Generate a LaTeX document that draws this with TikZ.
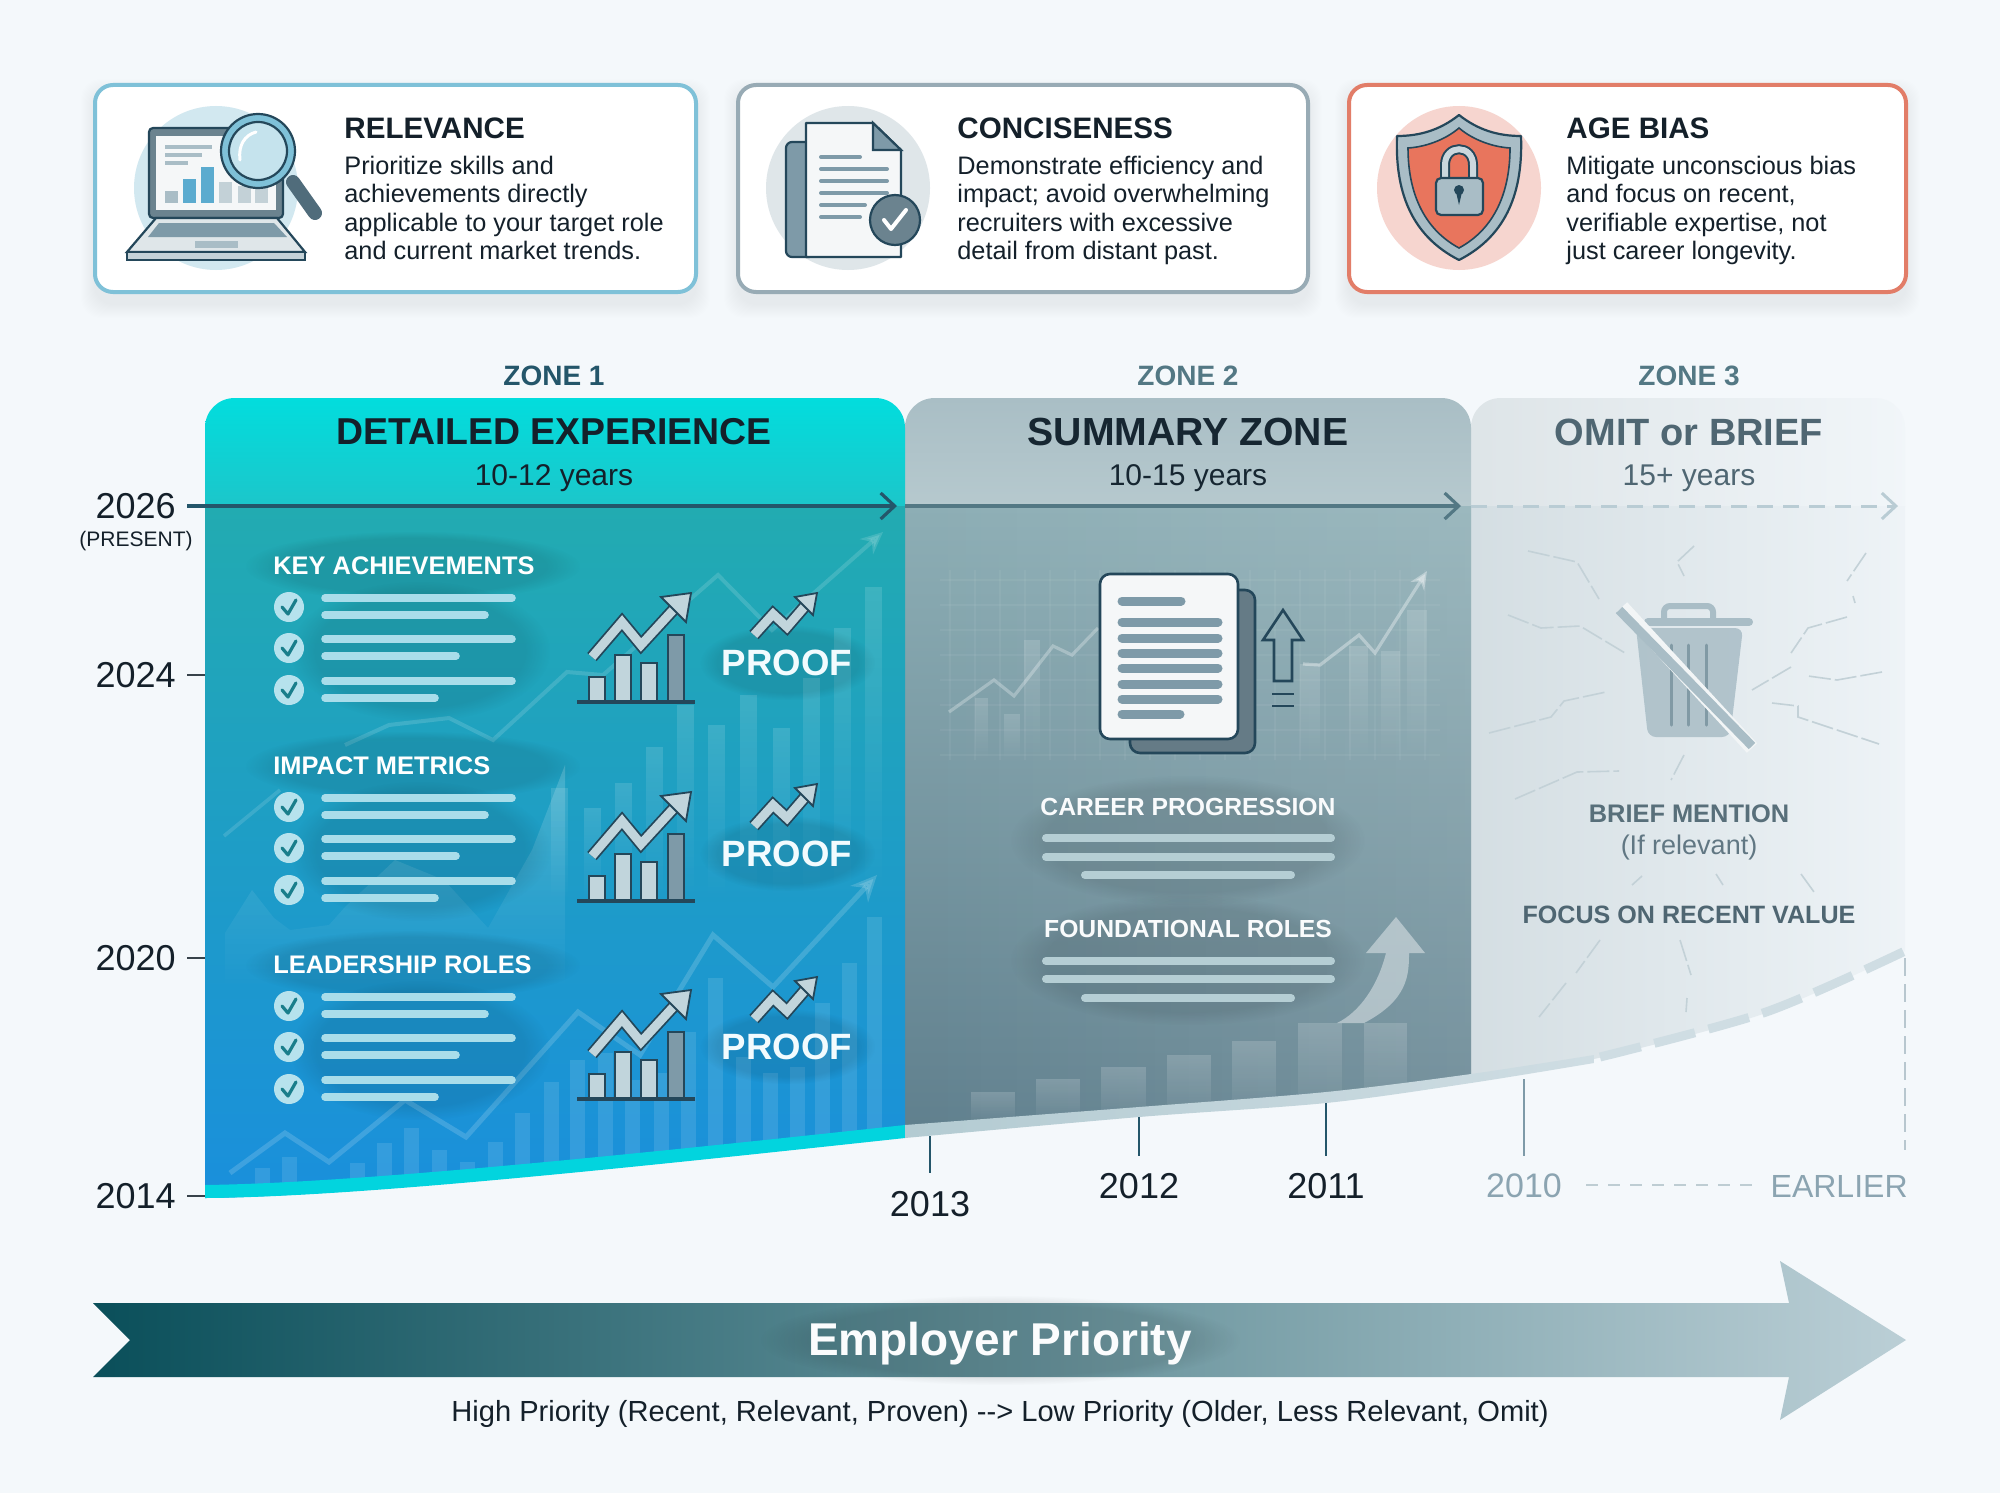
\documentclass[tikz,border=0pt]{standalone}
\usepackage{fontspec}
\setmainfont{Liberation Sans}
\usetikzlibrary{arrows.meta,fadings}

\definecolor{pagebg}{HTML}{F4F8FB}
\definecolor{inkdark}{HTML}{14202A}
\definecolor{iconink}{HTML}{24475A}
\definecolor{iconmid}{HTML}{7E9AA8}
\definecolor{iconpale}{HTML}{C1D5DC}
\definecolor{relblue}{HTML}{7FC1D8}
\definecolor{relhalo}{HTML}{D2E8F0}
\definecolor{congray}{HTML}{98ABB5}
\definecolor{agered}{HTML}{E27D68}
\definecolor{shieldred}{HTML}{E8755D}
\definecolor{lineone}{HTML}{24566A}
\definecolor{linetwo}{HTML}{537884}
\definecolor{linethree}{HTML}{B9CCD4}
\definecolor{listline}{HTML}{A9DDEA}
\definecolor{sumline}{HTML}{B5CED4}
\definecolor{trashgray}{HTML}{A9BDC6}
\definecolor{crackgray}{HTML}{C3D1D7}
\definecolor{omitink}{HTML}{4F6672}
\definecolor{zoneonea}{HTML}{02DDDD}
\definecolor{zoneoneb}{HTML}{1CC6CA}
\definecolor{zoneonec}{HTML}{22ABB1}
\definecolor{zoneoned}{HTML}{19A2C8}
\definecolor{zoneonee}{HTML}{1A8FDC}
\definecolor{zonetwoa}{HTML}{A9BEC5}
\definecolor{zonetwob}{HTML}{B6C9CE}
\definecolor{zonetwoc}{HTML}{8DAEB5}
\definecolor{zonetwod}{HTML}{7595A1}
\definecolor{zonetwoe}{HTML}{5F7F8D}
\definecolor{bandtwo}{HTML}{B3CBD2}
\definecolor{bandthree}{HTML}{CFDDE3}
\definecolor{arrowa}{HTML}{0A4F5A}
\definecolor{arrowb}{HTML}{5A8B96}
\definecolor{arrowc}{HTML}{BBCFD6}

\tikzfading[name=fadedn, top color=transparent!0, bottom color=transparent!100]
\tikzfading[name=fadert, left color=transparent!100, right color=transparent!0]

\tikzset{
  cardbox/.style={line width=2pt,fill=white,rounded corners=9pt},
  cardtitle/.style={anchor=west,inner sep=0pt,text=inkdark,font=\fontsize{14.8}{18}\selectfont\bfseries},
  cardbody/.style={anchor=north west,inner sep=0pt,align=left,text=inkdark,font=\fontsize{12.65}{14.1}\selectfont},
  iconline/.style={line width=1.1pt,draw=iconink},
  zonetag/.style={inner sep=0pt,font=\fontsize{14}{16}\selectfont\bfseries},
  zonehead/.style={inner sep=0pt,font=\fontsize{19}{22}\selectfont\bfseries},
  zoneyears/.style={inner sep=0pt,font=\fontsize{15}{18}\selectfont},
  yearlabel/.style={inner sep=0pt,text=inkdark,font=\fontsize{18}{20}\selectfont},
  minilabel/.style={inner sep=0pt,font=\fontsize{12.7}{15}\selectfont\bfseries},
  sumlabel/.style={inner sep=0pt,text=white!92!sumline,font=\fontsize{12.35}{15}\selectfont\bfseries},
  listbar/.style={line width=3.8pt,line cap=round,draw=listline},
  sumbar/.style={line width=4pt,line cap=round,draw=sumline},
  softglow/.style={black,opacity=.09,path fading=circle with fuzzy edge 20 percent},
  zigline/.style={line width=.9pt,draw=iconink,double=#1,double distance=4.4pt,line join=miter},
  zighead/.style={line width=.9pt,draw=iconink,fill=#1,line join=miter},
  crack/.style={line width=.8pt,draw=crackgray,dash pattern=on 11pt off 2pt},
  yeartick/.style={line width=1pt,draw=#1},
}

% soft drop shadow of a card
\newcommand{\cardshadow}[4]{
  \foreach \k in {1,...,14}
    \fill[black,opacity=.0035,rounded corners=10pt] ({#1-\k},{#2+8-\k}) rectangle ({#3+\k},{#4+12+\k});
}

\begin{document}
\begin{tikzpicture}[x=.5pt,y=-.5pt]
\fill[pagebg] (0,0) rectangle (2000,1493);
\useasboundingbox (0,0) rectangle (2000,1493);

% cards
\cardshadow{95}{85}{696}{292}
\cardshadow{738}{85}{1308}{292}
\cardshadow{1349}{85}{1906}{292}
\draw[cardbox,draw=relblue] (95,85) rectangle (696,292);
\draw[cardbox,draw=congray] (738,85) rectangle (1308,292);
\draw[cardbox,draw=agered] (1349,85) rectangle (1906,292);

% relevance icon
\fill[relhalo] (216,188) circle (82);
\draw[iconline,fill=iconmid!85!black,rounded corners=2pt] (149,128) rectangle (283,218);
\fill[white!92!iconmid] (156,136) rectangle (276,210);
\foreach \xa/\ya/\c in {165/191/trashgray,183/179/cyan!50!iconmid,201/167/cyan!50!iconmid,219/182/trashgray!70,238/186/trashgray!70,255/188/trashgray!70}
  \fill[\c] (\xa,\ya) rectangle (\xa+13,203);
\foreach \ya/\xb in {147/212,155/202,163/188}
  \draw[trashgray,line width=1.6pt] (165,\ya) -- (\xb,\ya);
\draw[iconline,fill=iconmid!25] (156,218) -- (277,218) -- (305,252) -- (127,252) -- cycle;
\draw[iconline,fill=iconmid!45] (127,252) rectangle (305,260);
\fill[iconmid] (159,223) -- (274,223) -- (287,237) -- (148,237) -- cycle;
\fill[trashgray] (195,241) rectangle (238,248);
\draw[line width=7pt,line cap=round,draw=iconink!80] (293,182) -- (315,213);
\draw[iconline,fill=relblue] (258,151) circle (37);
\draw[iconline,fill=relblue!45] (258,151) circle (29);
\draw[white,line width=1.5pt,line cap=round] (240,160) .. controls (238,145) and (245,135) .. (256,132);

% conciseness icon
\fill[iconmid!25] (848,188) circle (82);
\draw[iconline,fill=iconmid,rounded corners=3pt] (786,142) rectangle (815,257);
\draw[iconline,fill=white!92!iconmid,line join=round] (806,123) -- (873,123) -- (901,150) -- (901,257) -- (806,257) -- cycle;
\draw[iconline,fill=iconmid] (873,123) -- (901,150) -- (873,150) -- cycle;
\foreach \ya/\xb in {157/860,169/887,181/887,193/887,205/865,217/860}
  \draw[iconmid,line width=2pt,line cap=round] (821,\ya) -- (\xb,\ya);
\draw[iconline,fill=iconmid!85!black] (895,220) circle (25);
\draw[white,line width=2pt,line cap=round,line join=round] (884,220) -- (891,229) -- (906,210);

% age bias icon
\fill[agered!32] (1459,188) circle (82);
\draw[iconline,fill=trashgray,line join=round] (1459,115) .. controls (1440,130) and (1420,136) .. (1397,136) .. controls (1395,190) and (1410,235) .. (1459,260) .. controls (1508,235) and (1523,190) .. (1521,136) .. controls (1498,136) and (1478,130) .. (1459,115) -- cycle;
\draw[iconink,line width=.8pt,fill=shieldred] (1459,128) .. controls (1445,140) and (1425,147) .. (1408,148) .. controls (1408,190) and (1422,228) .. (1459,248) .. controls (1496,228) and (1510,190) .. (1510,148) .. controls (1493,147) and (1473,140) .. (1459,128) -- cycle;
\draw[iconink,line width=5pt] (1445,180) -- (1445,165) .. controls (1445,144) and (1473,144) .. (1473,165) -- (1473,180);
\draw[trashgray!60,line width=3pt] (1445,180) -- (1445,165) .. controls (1445,144) and (1473,144) .. (1473,165) -- (1473,180);
\draw[iconline,fill=trashgray,rounded corners=2.5pt] (1436,178) rectangle (1483,215);
\fill[iconink] (1459,190) circle (5);
\fill[iconink] (1456,192) -- (1462,192) -- (1459,205) -- cycle;

% card texts
\node[cardtitle] (reltitle) at (344,128) {RELEVANCE};
\node[cardbody] (relbody) at (344,156) {Prioritize skills and\\achievements directly\\applicable to your target role\\and current market trends.};
\node[cardtitle] (contitle) at (957,128) {CONCISENESS};
\node[cardbody] (conbody) at (957,156) {Demonstrate efficiency and\\impact; avoid overwhelming\\recruiters with excessive\\detail from distant past.};
\node[cardtitle] (agetitle) at (1566,128) {AGE BIAS};
\node[cardbody] (agebody) at (1566,156) {Mitigate unconscious bias\\and focus on recent,\\verifiable expertise, not\\just career longevity.};

% zone 3
\begin{scope}
\clip (1471,1079) -- (1471,428) .. controls (1471,411) and (1484,398) .. (1501,398) -- (1875,398) .. controls (1892,398) and (1905,411) .. (1905,428) -- (1905,951) -- plot[smooth] coordinates {(1905,951) (1766,1013) (1594,1059) (1471,1079)} -- cycle;
\shade[left color=black!4!trashgray!36,right color=pagebg!96!trashgray] (1471,398) rectangle (1905,506);
\shade[left color=trashgray!50,right color=pagebg!92!trashgray] (1471,506) rectangle (1905,1100);
\end{scope}

% zone 2
\begin{scope}
\clip (905,1131) -- (905,428) .. controls (905,411) and (918,398) .. (935,398) -- (1441,398) .. controls (1458,398) and (1471,411) .. (1471,428) -- (1471,1079) -- plot[smooth] coordinates {(1471,1079) (1326,1097) (1139,1112) (905,1131)} -- cycle;
\shade[top color=zonetwoa,bottom color=zonetwob] (905,398) rectangle (1471,506);
\shade[top color=zonetwoc,middle color=zonetwod,bottom color=zonetwoe] (905,506) rectangle (1471,1140);
\fill[white,opacity=.13,path fading=fadert] (905,506) rectangle (1471,1140);
\foreach \xa in {950,975,...,1425}
  \draw[white,opacity=.05,line width=.6pt] (\xa,570) -- (\xa,760);
\foreach \ya in {580,605,...,760}
  \draw[white,opacity=.05,line width=.6pt] (940,\ya) -- (1440,\ya);
\foreach \xa/\wa/\ya in {975/13/698,1004/16/714,1024/16/640,1300/20/664,1349/19/646,1381/19/651,1407/20/610}
  \fill[white,opacity=.14,path fading=fadedn] (\xa,\ya) rectangle (\xa+\wa,760);
\draw[white,opacity=.28,line width=1.6pt] (949,712) -- (994,680) -- (1014,696) -- (1053,646) -- (1072,655) -- (1098,628);
\draw[white,opacity=.35,line width=1.6pt,-{Stealth[length=9pt,width=8pt]}] (1303,664) -- (1320,665) -- (1359,635) -- (1375,653) -- (1427,571);
\foreach \xa/\wa/\ya in {971/44/1092,1036/44/1079,1101/45/1067,1167/44/1055,1232/44/1041,1298/44/1023,1364/43/1023}
  \fill[white,opacity=.17,path fading=fadedn] (\xa,\ya) rectangle (\xa+\wa,1125);
\fill[white,opacity=.42] (1337,1023) .. controls (1360,1012) and (1378,985) .. (1386,953) -- (1366,953) -- (1396,917) -- (1425,953) -- (1409,953) .. controls (1409,975) and (1408,1000) .. (1364,1023) -- cycle;
\end{scope}

% zone 1
\begin{scope}
\clip (205,1198) -- (205,428) .. controls (205,411) and (218,398) .. (235,398) -- (875,398) .. controls (892,398) and (905,411) .. (905,428) -- (905,1137) .. controls (600,1170) and (350,1196) .. (205,1198) -- cycle;
\shade[top color=zoneonea,bottom color=zoneoneb] (205,398) rectangle (905,506);
\shade[top color=zoneonec,middle color=zoneoned,bottom color=zoneonee] (205,506) rectangle (905,1200);
% faint bars
\foreach \xa/\ya in {551/788,584/808,615/783,646/747,677/705,708/725,740/695,773/728,803/678,834/628,865/587}
  \fill[white,opacity=.13,path fading=fadedn] (\xa,\ya) rectangle (\xa+17,900);
\foreach \xa/\ya in {255/1168,282/1157,350/1163,377/1143,404/1128,432/1150,460/1162,488/1142,515/1113,544/1082,570/1060,598/1053,625/1080,654/1073,681/1032,708/978,736/1057,763/1073,790/1067,815/1003,842/963,867/917}
  \fill[white,opacity=.11] (\xa,\ya) rectangle (\xa+15,1200);
% faint trends
\fill[white,opacity=.18,path fading=fadedn] (225,933) -- (252,890) -- (274,918) -- (290,930) -- (329,925) -- (345,907) -- (395,860) -- (444,880) -- (488,928) -- (532,850) -- (565,765) -- (565,990) -- (225,990) -- cycle;
\draw[white,opacity=.13,line width=1.8pt] (224,836) -- (280,790);
\draw[white,opacity=.14,line width=2pt,-{Stealth[length=11pt,width=10pt]}] (345,745) -- (389,725) -- (449,718) -- (493,740) -- (567,672) -- (603,675) -- (718,575) -- (772,630) -- (883,532);
\draw[white,opacity=.16,line width=2.5pt,-{Stealth[length=13pt,width=12pt]}] (230,1173) -- (285,1133) -- (329,1162) -- (405,1100) -- (466,1137) -- (578,1012) -- (640,1055) -- (713,935) -- (773,987) -- (877,875);
\end{scope}

% curve bands under the zones
\fill[zoneonea!96!blue] (205,1185) .. controls (350,1183) and (600,1158) .. (905,1125) -- (905,1138) .. controls (600,1171) and (350,1197) .. (205,1198) -- cycle;
\shade[left color=bandtwo,right color=bandthree] (905,1125) -- plot[smooth] coordinates {(905,1125) (1139,1107) (1326,1092) (1471,1074) (1594,1055)} -- (1594,1063) -- plot[smooth] coordinates {(1594,1063) (1471,1083) (1326,1103) (1139,1117) (905,1138)} -- cycle;
\draw[line width=4.5pt,draw=bandthree,dash pattern=on 21pt off 7pt] plot[smooth] coordinates {(1600,1057) (1766,1012) (1905,951)};

% list blocks with their charts
\foreach \blk/\cap/\hy/\chartdy/\proofdy in {key/KEY ACHIEVEMENTS/566/0/0,imp/IMPACT METRICS/766/199/191,lead/LEADERSHIP ROLES/965/397/384}{
  \fill[softglow] (245,\hy-35) rectangle (580,\hy+35);
  \fill[softglow] (290,\hy+15) rectangle (550,\hy+155);
  \fill[softglow] (700,625+\proofdy) rectangle (875,700+\proofdy);
  \node[minilabel,text=white,anchor=west] (head\blk) at (273,\hy) {\cap};
  \foreach \dy in {41,82,124}{
    \fill[listline!85!white] (289,\hy+\dy) circle (15);
    \draw[iconink!70!cyan,line width=1.6pt,line cap=round,line join=round] (282,\hy+\dy) -- (288,\hy+\dy+7) -- (296,\hy+\dy-7);
  }
  \foreach \dy/\xb in {32/515,49/488,73/515,90/459,115/515,132/438}
    \draw[listbar] (325,\hy+\dy) -- (\xb-3,\hy+\dy);
  % chart icon
  \begin{scope}[shift={(0,\chartdy)}]
    \foreach \xa/\ya/\c in {589/677/iconpale,615/655/iconpale,641/663/iconpale,668/635/iconmid}
      \draw[iconink,line width=1.1pt,fill=\c] (\xa,702) -- (\xa,\ya) -- (\xa+16,\ya) -- (\xa+16,702);
    \draw[iconink,line width=1.6pt] (577,702) -- (695,702);
    \draw[zigline=iconpale] (592,657) -- (622,622) -- (641,645) -- (675,608);
    \draw[zighead=iconpale] (661,597) -- (691,593) -- (686,622) -- cycle;
  \end{scope}
  % proof icon
  \begin{scope}[shift={(0,\proofdy)}]
    \draw[zigline=iconpale] (754,635) -- (773,614) -- (787,627) -- (806,605);
    \draw[zighead=iconpale] (795,597) -- (817,593) -- (813,615) -- cycle;
  \end{scope}
  \node[inner sep=0pt,text=white!95!cyan,font=\fontsize{18.3}{22}\selectfont\bfseries] (proof\blk) at (787,663+\proofdy) {PROOF};
}

% zone 2 content
\draw[iconink,line width=1.3pt,fill=iconmid!80!black,rounded corners=5pt] (1130,590) rectangle (1255,753);
\draw[iconink,line width=1.3pt,fill=white!92!iconmid,rounded corners=5pt] (1100,574) rectangle (1238,739);
\draw[iconmid,line width=4.5pt,line cap=round] (1122,601) -- (1181,601);
\foreach \ya in {622,638,653,668,684,699}
  \draw[iconmid,line width=4.5pt,line cap=round] (1122,\ya) -- (1218,\ya);
\draw[iconmid,line width=4.5pt,line cap=round] (1122,714) -- (1180,714);
\draw[iconink,line width=1.3pt,line join=miter] (1283,610) -- (1303,640) -- (1292,640) -- (1292,681) -- (1274,681) -- (1274,640) -- (1263,640) -- cycle;
\draw[iconink,line width=1.3pt] (1272,694) -- (1294,694) (1272,706) -- (1294,706);
\fill[softglow] (1010,775) rectangle (1365,905);
\fill[softglow] (1010,895) rectangle (1365,1025);
\node[sumlabel] (careerhead) at (1188,807) {CAREER PROGRESSION};
\draw[sumbar] (1046,838) -- (1331,838) (1046,857) -- (1331,857) (1085,875) -- (1291,875);
\node[sumlabel] (foundhead) at (1188,929) {FOUNDATIONAL ROLES};
\draw[sumbar] (1046,961) -- (1331,961) (1046,979) -- (1331,979) (1085,998) -- (1291,998);

% zone 3 content
\foreach \pts in {
  {(1528,551) -- (1577,562) -- (1599,599)},
  {(1694,546) -- (1677,562) -- (1684,576)},
  {(1866,553) -- (1847,581)},
  {(1853,596) -- (1855,603)},
  {(1508,615) -- (1541,628) -- (1580,626) -- (1625,653)},
  {(1847,617) -- (1808,628) -- (1791,653)},
  {(1882,672) -- (1837,680) -- (1808,676)},
  {(1791,667) -- (1752,690)},
  {(1489,733) -- (1551,717) -- (1564,701) -- (1606,692)},
  {(1772,703) -- (1798,706) -- (1798,717) -- (1879,744)},
  {(1684,755) -- (1671,780)},
  {(1515,799) -- (1577,772) -- (1619,771)},
  {(1642,876) -- (1632,885)},
  {(1716,874) -- (1723,885)},
  {(1801,874) -- (1814,892)},
  {(1600,940) -- (1576,973)},
  {(1566,983) -- (1539,1017)},
  {(1680,940) -- (1691,975)},
  {(1687,998) -- (1686,1012)}
}{\draw[crack] \pts;}
\draw[trashgray,line width=3pt,rounded corners=3pt] (1664,618) -- (1664,606) -- (1713,606) -- (1713,618);
\draw[trashgray,line width=4pt,line cap=round] (1648,622) -- (1749,622);
\fill[trashgray,opacity=.85,rounded corners=4pt] (1636,628) -- (1743,628) -- (1730,737) -- (1648,737) -- cycle;
\foreach \xa in {1671,1688,1706}
  \draw[trashgray!70!iconink,line width=1.5pt,line cap=round] (\xa,645) -- (\xa,725);
\draw[white!85!trashgray,line width=7pt] (1622,607) -- (1752,748);
\draw[trashgray,line width=4.5pt] (1619,610) -- (1752,746);
\node[minilabel,text=omitink!90!trashgray] (briefhead) at (1689,814) {BRIEF MENTION};
\node[inner sep=0pt,text=omitink!80!trashgray,font=\fontsize{13.5}{15}\selectfont] (briefnote) at (1689,848) {(If relevant)};
\node[minilabel,font=\fontsize{12.55}{15}\selectfont\bfseries,text=omitink] (focushead) at (1689,915) {FOCUS ON RECENT VALUE};

% zone headings
\node[zonetag,text=lineone] (tagone) at (554,376) {ZONE 1};
\node[zonetag,text=linetwo] (tagtwo) at (1188,376) {ZONE 2};
\node[zonetag,text=linetwo] (tagthree) at (1689,376) {ZONE 3};
\node[zonehead,text=inkdark,font=\fontsize{18.7}{22}\selectfont\bfseries] (headone) at (554,432) {DETAILED EXPERIENCE};
\node[zoneyears,text=inkdark] (yearsone) at (554,478) {10-12 years};
\node[zonehead,text=inkdark!85!iconink,font=\fontsize{19.6}{22}\selectfont\bfseries] (headtwo) at (1188,432) {SUMMARY ZONE};
\node[zoneyears,text=inkdark!85!iconink] (yearstwo) at (1188,478) {10-15 years};
\node[zonehead,text=omitink] (headthree) at (1689,432) {OMIT or BRIEF};
\node[zoneyears,text=omitink] (yearsthree) at (1689,478) {15+ years};

% timeline across the zones
\coordinate (tlstart) at (187,506);
\coordinate (tlone) at (897,506);
\coordinate (tltwostart) at (905,506);
\coordinate (tltwo) at (1461,506);
\coordinate (tlthreestart) at (1471,506);
\coordinate (tlthree) at (1898,506);
\draw[draw=lineone,line width=1.6pt,-{Straight Barb[length=7pt,width=13pt]}] (tlstart) -- (tlone);
\draw[draw=linetwo,line width=1.6pt,-{Straight Barb[length=7pt,width=13pt]}] (tltwostart) -- (tltwo);
\draw[draw=linethree,line width=1.5pt,dash pattern=on 8pt off 5pt,-{Straight Barb[length=7pt,width=13pt]}] (tlthreestart) -- (tlthree);

% year axis on the left
\node[yearlabel,anchor=east] (yrtwentysix) at (176,506) {2026};
\node[inner sep=0pt,text=inkdark,font=\fontsize{10.5}{13}\selectfont] (present) at (136,541) {(PRESENT)};
\foreach \yr/\ya in {2024/675,2020/958,2014/1196}{
  \node[yearlabel,anchor=east] (yr\yr) at (176,\ya) {\yr};
  \coordinate (yt\yr) at (205,\ya);
  \draw[inkdark!85,line width=1.3pt] (yr\yr.east) ++(11,0) -- (yt\yr);
}

% year axis at the bottom
\foreach \yr/\xa/\ya/\yb/\yc/\c in {2013/930/1136/1173/1204/lineone,2012/1139/1117/1156/1186/lineone,2011/1326/1103/1156/1186/lineone}{
  \node[yearlabel] (yr\yr) at (\xa,\yc) {\yr};
  \coordinate (yt\yr) at (\xa,\ya);
  \coordinate (yb\yr) at (\xa,\yb);
  \draw[yeartick=\c] (yt\yr) -- (yb\yr);
}
\node[yearlabel,text=iconmid!90!white,font=\fontsize{17}{20}\selectfont] (yrtwentyten) at (1524,1186) {2010};
\coordinate (yttwentyten) at (1524,1079);
\coordinate (ybtwentyten) at (1524,1156);
\draw[yeartick=iconmid] (yttwentyten) -- (ybtwentyten);
\node[yearlabel,text=iconmid!90!white,anchor=east,font=\fontsize{16}{20}\selectfont] (earlier) at (1908,1186) {EARLIER};
\coordinate (dashstart) at (1586,1185);
\coordinate (dashend) at (1753,1185);
\draw[iconmid!50,line width=.8pt,dash pattern=on 6pt off 5pt] (dashstart) -- (dashend);
\coordinate (edgetop) at (1905,958);
\coordinate (edgebot) at (1905,1150);
\draw[iconmid!55,line width=.8pt,dash pattern=on 9pt off 4pt] (edgetop) -- (edgebot);

% priority arrow
\shade[left color=arrowa,middle color=arrowb,right color=arrowc] (93,1303) -- (1789,1303) -- (1780,1261) -- (1906,1340) -- (1780,1420) -- (1789,1377) -- (93,1377) -- (130,1340) -- cycle;
\fill[softglow] (760,1295) rectangle (1240,1385);
\node[inner sep=0pt,text=white!95!sumline,font=\fontsize{23}{27}\selectfont\bfseries] (priority) at (1000,1344) {Employer Priority};
\node[inner sep=0pt,text=inkdark,font=\fontsize{14.55}{17}\selectfont] (prioritynote) at (1000,1414) {High Priority (Recent, Relevant, Proven) -{}-> Low Priority (Older, Less Relevant, Omit)};
\end{tikzpicture}
\end{document}
